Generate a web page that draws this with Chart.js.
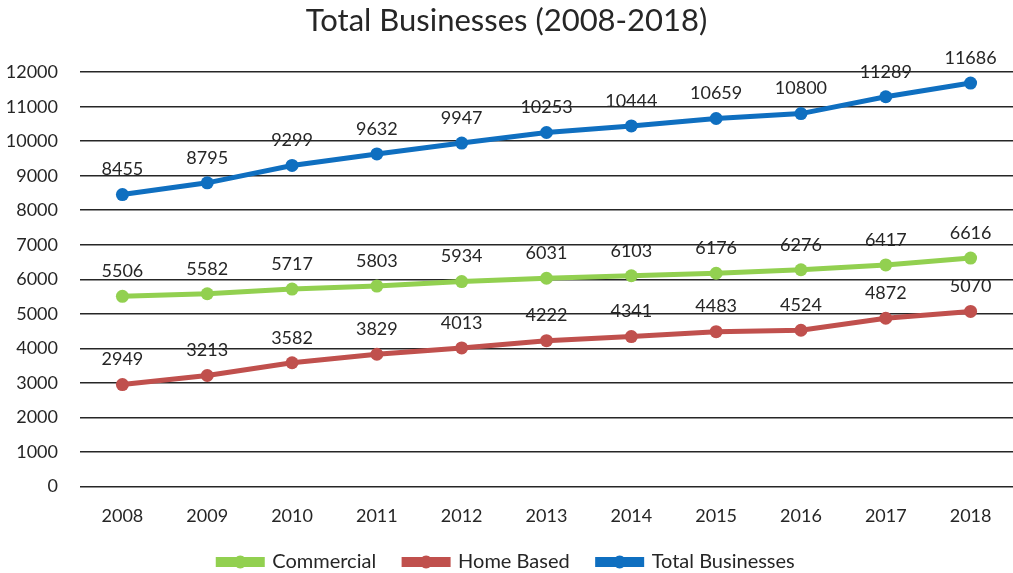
<!DOCTYPE html>
<html>
<head>
<meta charset="utf-8">
<script src="https://cdn.jsdelivr.net/npm/chart.js@4.4.0/dist/chart.umd.min.js"></script>
<style>
  html, body { margin: 0; padding: 0; background: #fff; }
  #wrap { width: 1013px; height: 573px; }
</style>
</head>
<body>
<div id="wrap"><canvas id="chart" width="1013" height="573"></canvas></div>
<script>
// chart data
const years = ['2008', '2009', '2010', '2011', '2012', '2013', '2014', '2015', '2016', '2017', '2018'];
const commercial = [5506, 5582, 5717, 5803, 5934, 6031, 6103, 6176, 6276, 6417, 6616];
const homeBased = [2949, 3213, 3582, 3829, 4013, 4222, 4341, 4483, 4524, 4872, 5070];
const totalBusinesses = [8455, 8795, 9299, 9632, 9947, 10253, 10444, 10659, 10800, 11289, 11686];
const yTicks = [0, 1000, 2000, 3000, 4000, 5000, 6000, 7000, 8000, 9000, 10000, 11000, 12000];

const FONT = 'Lato, "Open Sans", sans-serif';

function series(label, data, color) {
    return {
        label: label,
        data: data,
        borderColor: color,
        backgroundColor: color,
        borderWidth: 5,
        pointRadius: 6.5,
        pointHoverRadius: 6.5,
        pointBackgroundColor: color,
        pointBorderWidth: 0,
        tension: 0
    };
}

// value labels above each point
const valueLabels = {
    id: 'valueLabels',
    afterDatasetsDraw(chart) {
        const ctx = chart.ctx;
        ctx.save();
        ctx.font = '18px ' + FONT;
        ctx.fillStyle = '#262626';
        ctx.textAlign = 'center';
        ctx.textBaseline = 'middle';
        chart.data.datasets.forEach((ds, i) => {
            chart.getDatasetMeta(i).data.forEach((pt, j) => {
                ctx.fillText(String(ds.data[j]), pt.x, pt.y - 25);
            });
        });
        ctx.restore();
    }
};

// dot in the middle of each legend line
const legendDots = {
    id: 'legendDots',
    afterDraw(chart) {
        const legend = chart.legend;
        if (!legend || !legend.legendHitBoxes) return;
        const ctx = chart.ctx;
        const boxW = legend.options.labels.boxWidth;
        ctx.save();
        legend.legendHitBoxes.forEach((hb, i) => {
            ctx.fillStyle = chart.data.datasets[i].borderColor;
            ctx.beginPath();
            ctx.arc(hb.left + boxW / 2, hb.top + hb.height / 2, 6.5, 0, Math.PI * 2);
            ctx.fill();
        });
        ctx.restore();
    }
};

new Chart(document.getElementById('chart'), {
    type: 'line',
    data: {
        labels: years,
        datasets: [
            series('Commercial', commercial, '#92D050'),
            series('Home Based', homeBased, '#C0504D'),
            series('Total Businesses', totalBusinesses, '#0F6FC0')
        ]
    },
    options: {
        responsive: false,
        animation: false,
        layout: { autoPadding: false, padding: { left: 0, right: 0, top: 0, bottom: -9 } },
        plugins: {
            title: {
                display: true,
                text: 'Total Businesses (2008-2018)',
                color: '#262626',
                font: { family: FONT, size: 31, weight: 'normal' },
                padding: { top: 2, bottom: 33 }
            },
            legend: {
                position: 'bottom',
                labels: {
                    boxWidth: 44,
                    boxHeight: 5,
                    padding: 28,
                    color: '#262626',
                    font: { family: FONT, size: 20 }
                }
            },
            tooltip: { enabled: false }
        },
        scales: {
            x: {
                offset: true,
                grid: { display: false },
                border: { display: false },
                afterFit(scale) {
                    scale.height -= 14;
                    scale.paddingLeft = 0;
                    scale.paddingRight = 0;
                },
                ticks: {
                    color: '#262626',
                    font: { family: FONT, size: 18 },
                    padding: 11
                }
            },
            y: {
                min: 0,
                max: 12000,
                afterBuildTicks(scale) {
                    scale.ticks = yTicks.map(v => ({ value: v }));
                },
                afterFit(scale) { scale.width = 80; },
                grid: { color: '#262626', lineWidth: 1.6, drawTicks: false },
                border: { display: false },
                ticks: {
                    color: '#262626',
                    font: { family: FONT, size: 18 },
                    padding: 22,
                    callback: v => String(v)
                }
            }
        }
    },
    plugins: [valueLabels, legendDots]
});
</script>
</body>
</html>
